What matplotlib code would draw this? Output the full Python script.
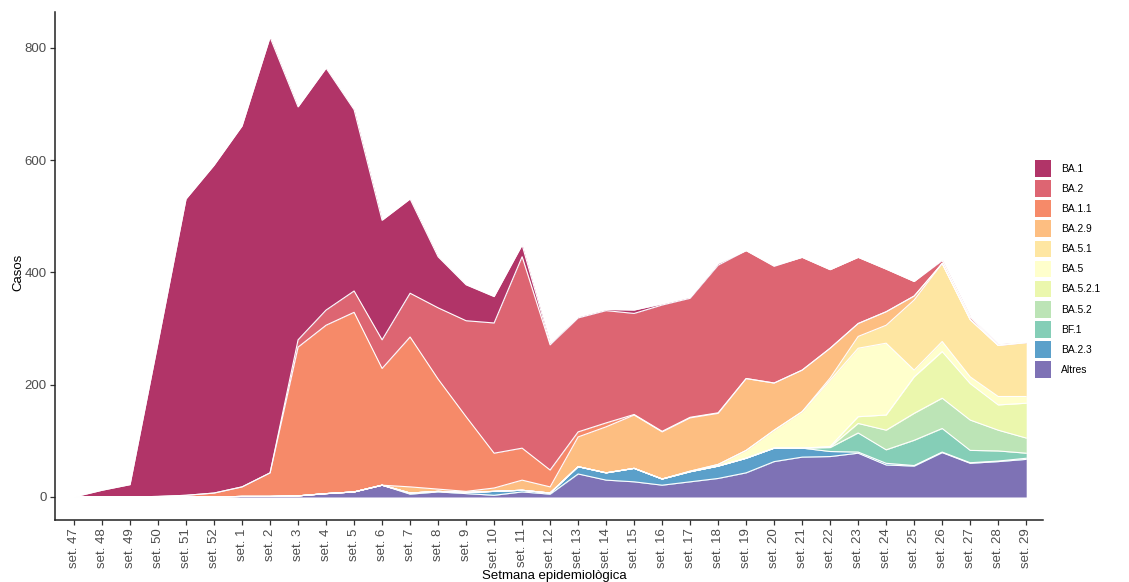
import numpy as np
import matplotlib
matplotlib.use("Agg")
import matplotlib.pyplot as plt
from matplotlib.patches import Patch
from matplotlib.colors import to_rgb

plt.rcParams['font.family'] = ['Liberation Sans', 'DejaVu Sans']

weeks = ["set. 47", "set. 48", "set. 49", "set. 50", "set. 51", "set. 52",
         "set. 1", "set. 2", "set. 3", "set. 4", "set. 5", "set. 6", "set. 7",
         "set. 8", "set. 9", "set. 10", "set. 11", "set. 12", "set. 13",
         "set. 14", "set. 15", "set. 16", "set. 17", "set. 18", "set. 19",
         "set. 20", "set. 21", "set. 22", "set. 23", "set. 24", "set. 25",
         "set. 26", "set. 27", "set. 28", "set. 29"]

BA_1 = [0, 12, 22, 274, 528, 584, 643, 776, 415, 431, 323, 213, 168, 91, 64, 47, 21, 3,
        2, 2, 6, 2, 2, 3, 0, 1, 0, 0, 0, 0, 0, 2, 2, 2, 1]
BA_2 = [0, 0, 0, 0, 0, 0, 0, 0, 13, 27, 38, 51, 78, 127, 171, 232, 341, 223,
        203, 200, 180, 225, 212, 263, 228, 208, 201, 140, 118, 76, 26, 5, 4, 1, 1]
BA_1_1 = [0, 0, 0, 1, 3, 7, 17, 42, 265, 300, 320, 208, 267, 196, 133, 62, 57, 30,
          9, 7, 1, 1, 1, 1, 0, 0, 0, 0, 0, 0, 0, 0, 0, 0, 0]
BA_2_9 = [0, 0, 0, 0, 0, 0, 0, 0, 0, 0, 0, 0, 11, 4, 2, 6, 18, 11,
          53, 82, 95, 84, 95, 91, 128, 84, 74, 53, 23, 24, 7, 0, 0, 0, 0]
BA_5_1 = [0, 0, 0, 0, 0, 0, 0, 0, 0, 0, 0, 0, 0, 0, 0, 0, 0, 0,
          0, 0, 0, 0, 0, 0, 0, 0, 0, 4, 21, 32, 125, 139, 102, 91, 96]
BA_5 = [0, 0, 0, 0, 0, 0, 0, 0, 0, 0, 0, 0, 0, 0, 0, 0, 0, 0,
        0, 0, 0, 0, 1, 3, 14, 32, 65, 118, 122, 128, 12, 18, 12, 15, 12]
BA_5_2_1 = [0, 0, 0, 0, 0, 0, 0, 0, 0, 0, 0, 0, 0, 0, 0, 0, 0, 0,
            0, 0, 0, 0, 0, 0, 0, 0, 0, 1, 12, 27, 65, 83, 65, 45, 62]
BA_5_2 = [0, 0, 0, 0, 0, 0, 0, 0, 0, 0, 0, 0, 0, 0, 0, 0, 0, 0,
          0, 0, 0, 0, 0, 0, 0, 0, 0, 1, 17, 35, 48, 54, 54, 37, 27]
BF_1 = [0, 0, 0, 0, 0, 0, 0, 0, 0, 0, 0, 0, 0, 0, 0, 0, 0, 0,
        0, 0, 0, 0, 0, 0, 0, 0, 0, 7, 34, 24, 45, 42, 22, 18, 9]
BA_2_3 = [0, 0, 0, 0, 0, 0, 0, 0, 0, 0, 0, 0, 2, 1, 2, 7, 3, 2,
          13, 13, 24, 11, 18, 22, 26, 24, 16, 9, 2, 3, 1, 1, 1, 1, 2]
Altres = [0, 0, 0, 0, 0, 0, 1, 1, 2, 6, 9, 21, 5, 9, 6, 3, 9, 5,
          41, 30, 27, 21, 27, 33, 43, 63, 71, 72, 78, 57, 55, 79, 60, 63, 67]

legend_labels = ["BA.1", "BA.2", "BA.1.1", "BA.2.9", "BA.5.1", "BA.5",
                 "BA.5.2.1", "BA.5.2", "BF.1", "BA.2.3", "Altres"]
series = [BA_1, BA_2, BA_1_1, BA_2_9, BA_5_1, BA_5, BA_5_2_1, BA_5_2, BF_1, BA_2_3, Altres]
palette = ["#9E0142", "#D53E4F", "#F46D43", "#FDAE61", "#FEE08B", "#FFFFBF",
           "#E6F598", "#ABDDA4", "#66C2A5", "#3288BD", "#5E4FA2"]

alpha = 0.8
def blend(c):
    r = np.array(to_rgb(c))
    return tuple(alpha * r + (1 - alpha))
colors = [blend(c) for c in palette]

fig = plt.figure(figsize=(11.29, 5.82), dpi=100)
ax = fig.add_axes([55 / 1129, 1 - 520 / 582, (1043 - 55) / 1129, (520 - 12) / 582])

x = np.arange(len(weeks))
order = list(range(len(series)))[::-1]
base = np.zeros(len(weeks))
tops = []
for i in order:
    vals = np.array(series[i], dtype=float)
    top = base + vals
    ax.fill_between(x, base, top, color=colors[i], linewidth=0, zorder=2)
    tops.append(top.copy())
    base = top
for top in tops:
    ax.plot(x, top, color="white", lw=0.8, zorder=3)

ax.set_xlim(-0.68, 34.6)
ax.set_ylim(-41, 864)
ax.set_xticks(x)
ax.set_xticklabels(weeks, rotation=90, fontsize=9.5, color="#4D4D4D")
ax.set_yticks([0, 200, 400, 600, 800])
ax.set_yticklabels(["0", "200", "400", "600", "800"], fontsize=9.5, color="#4D4D4D")
ax.tick_params(axis="both", length=3.5, width=0.9, color="#333333", pad=2.5)

for s in ["top", "right"]:
    ax.spines[s].set_visible(False)
for s in ["left", "bottom"]:
    ax.spines[s].set_linewidth(1.1)
    ax.spines[s].set_color("#222222")

fig.text(18 / 1129, 1 - 272 / 582, "Casos", rotation=90, fontsize=9.5,
         ha="center", va="center", color="black")
fig.text(554 / 1129, 1 - 570 / 582, "Setmana epidemiològica", fontsize=9.5,
         ha="center", va="top", color="black")

handles = [Patch(facecolor=colors[i], edgecolor="none") for i in range(len(series))]
fig.legend(handles, legend_labels, loc="center left",
           bbox_to_anchor=(1035 / 1129, 1 - 269 / 582), bbox_transform=fig.transFigure,
           frameon=False, fontsize=7.4, handlelength=1.6, handleheight=2.1,
           labelspacing=0.35, handletextpad=0.9, borderpad=0, borderaxespad=0)

fig.savefig("out.png", dpi=100)
